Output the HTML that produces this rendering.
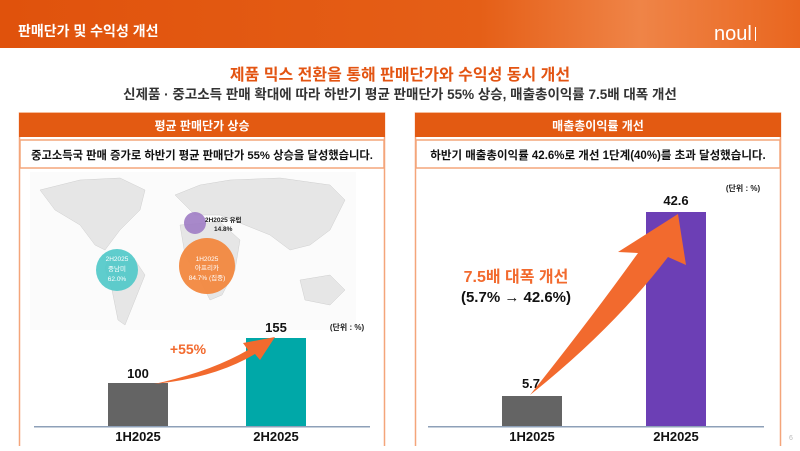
<!DOCTYPE html>
<html><head><meta charset="utf-8"><style>
body{margin:0;width:800px;height:446px;overflow:hidden;background:#fff;font-family:"Liberation Sans","Noto Sans CJK KR",sans-serif}
</style></head><body>
<svg width="800" height="446" xmlns="http://www.w3.org/2000/svg" font-family="Liberation Sans, Noto Sans CJK KR, sans-serif">
<defs>
<linearGradient id="hg" x1="0" x2="1"><stop offset="0" stop-color="#e0520c"/><stop offset="0.6" stop-color="#e55f17"/><stop offset="0.8" stop-color="#ef8447"/><stop offset="1" stop-color="#e9661f"/></linearGradient>
</defs>
<rect x="0" y="0" width="800" height="48" fill="url(#hg)"/>
<text x="18" y="36" fill="#fff" font-size="14" font-weight="bold">판매단가 및 수익성 개선</text>
<text x="714" y="40" fill="#fff" font-size="20">noul</text>
<rect x="755" y="27" width="1" height="14" fill="#fff"/>
<text x="400" y="80" text-anchor="middle" fill="#e35412" font-size="16" font-weight="bold">제품 믹스 전환을 통해 판매단가와 수익성 동시 개선</text>
<text x="400" y="99" text-anchor="middle" fill="#333" font-size="13.5" font-weight="bold">신제품 · 중고소득 판매 확대에 따라 하반기 평균 판매단가 55% 상승, 매출총이익률 7.5배 대폭 개선</text>

<!-- left panel -->
<rect x="19.5" y="113" width="365" height="340" fill="none" stroke="#f4a57a" stroke-width="1.5"/>
<rect x="19" y="113" width="366" height="24" fill="#e35a12"/>
<text x="202" y="130" text-anchor="middle" fill="#fff" font-size="12" font-weight="bold">평균 판매단가 상승</text>
<rect x="20" y="140" width="364" height="28" fill="#fff" stroke="#f4a57a" stroke-width="1.5"/>
<text x="202" y="159" text-anchor="middle" fill="#111" font-size="11.3" font-weight="bold">중고소득국 판매 증가로 하반기 평균 판매단가 55% 상승을 달성했습니다.</text>
<rect x="30" y="172" width="326" height="158" fill="#fbfbfb"/>
<g fill="#e6e6e6" stroke="#cfcfcf" stroke-width="0.5">
<path d="M40 190 L80 180 L120 178 L145 190 L140 210 L120 230 L105 250 L95 245 L80 225 L55 210 Z"/>
<path d="M110 255 L135 260 L145 275 L135 300 L125 325 L118 320 L112 290 L105 268 Z"/>
<path d="M175 195 L200 185 L230 180 L280 178 L330 185 L345 200 L330 230 L310 245 L290 250 L270 235 L245 225 L220 215 L195 215 Z"/>
<path d="M180 225 L220 222 L240 240 L235 270 L222 295 L210 300 L200 280 L185 255 Z"/>
<path d="M300 280 L330 275 L345 290 L330 305 L305 300 Z"/>
</g>
<circle cx="195" cy="223" r="11" fill="#9f7cc4" opacity="0.9"/>
<text x="205" y="222" fill="#222" font-size="6.5" font-weight="bold">2H2025 유럽</text>
<text x="214" y="231" fill="#222" font-size="6.5" font-weight="bold">14.8%</text>
<circle cx="117" cy="270" r="21" fill="#4ec8c8" opacity="0.9"/>
<text x="117" y="261" text-anchor="middle" fill="#fff" font-size="6.5">2H2025</text>
<text x="117" y="271" text-anchor="middle" fill="#fff" font-size="6.5">중남미</text>
<text x="117" y="281" text-anchor="middle" fill="#fff" font-size="6.5">62.0%</text>
<circle cx="207" cy="266" r="28" fill="#f2883f" opacity="0.95"/>
<text x="207" y="261" text-anchor="middle" fill="#fff" font-size="6.5">1H2025</text>
<text x="207" y="270" text-anchor="middle" fill="#fff" font-size="6.5">아프리카</text>
<text x="207" y="280" text-anchor="middle" fill="#fff" font-size="6.5">84.7% (집중)</text>
<text x="347" y="330" text-anchor="middle" fill="#222" font-size="8" font-weight="bold">(단위 : %)</text>
<rect x="108" y="383" width="60" height="44" fill="#646464"/>
<rect x="246" y="338" width="60" height="89" fill="#00a8a8"/>
<rect x="34" y="426" width="336" height="1.5" fill="#8ea0b8"/>
<text x="138" y="378" text-anchor="middle" fill="#111" font-size="13" font-weight="bold">100</text>
<text x="276" y="332" text-anchor="middle" fill="#111" font-size="13" font-weight="bold">155</text>
<text x="188" y="354" text-anchor="middle" fill="#f26a2e" font-size="14" font-weight="bold">+55%</text>
<path d="M154 384 Q210 372 248 350 L243 343 L275 337 L260 360 L255 354 Q215 378 154 384 Z" fill="#f26a2e"/>
<text x="138" y="441" text-anchor="middle" fill="#111" font-size="13" font-weight="bold">1H2025</text>
<text x="276" y="441" text-anchor="middle" fill="#111" font-size="13" font-weight="bold">2H2025</text>

<!-- right panel -->
<rect x="415.5" y="113" width="365" height="340" fill="none" stroke="#f4a57a" stroke-width="1.5"/>
<rect x="415" y="113" width="366" height="24" fill="#e35a12"/>
<text x="598" y="130" text-anchor="middle" fill="#fff" font-size="12" font-weight="bold">매출총이익률 개선</text>
<rect x="416" y="140" width="364" height="28" fill="#fff" stroke="#f4a57a" stroke-width="1.5"/>
<text x="598" y="159" text-anchor="middle" fill="#111" font-size="11.5" font-weight="bold">하반기 매출총이익률 42.6%로 개선 1단계(40%)를 초과 달성했습니다.</text>
<text x="743" y="191" text-anchor="middle" fill="#222" font-size="8" font-weight="bold">(단위 : %)</text>
<rect x="502" y="396" width="60" height="31" fill="#646464"/>
<rect x="646" y="212" width="60" height="215" fill="#6c3fb5"/>
<rect x="428" y="426" width="336" height="1.5" fill="#8ea0b8"/>
<text x="531" y="388" text-anchor="middle" fill="#111" font-size="13" font-weight="bold">5.7</text>
<text x="676" y="205" text-anchor="middle" fill="#111" font-size="13" font-weight="bold">42.6</text>
<path d="M530 395 Q590 320 638 253 L618 252 L678 214 L686 265 L668 257 Q612 330 530 395 Z" fill="#f26a2e"/>
<text x="516" y="282" text-anchor="middle" fill="#f26a2e" font-size="16" font-weight="bold">7.5배 대폭 개선</text>
<text x="516" y="302" text-anchor="middle" fill="#111" font-size="15" font-weight="bold">(5.7% → 42.6%)</text>
<text x="532" y="441" text-anchor="middle" fill="#111" font-size="13" font-weight="bold">1H2025</text>
<text x="676" y="441" text-anchor="middle" fill="#111" font-size="13" font-weight="bold">2H2025</text>
<text x="789" y="440" fill="#bbb" font-size="7">6</text>
</svg>
</body></html>
